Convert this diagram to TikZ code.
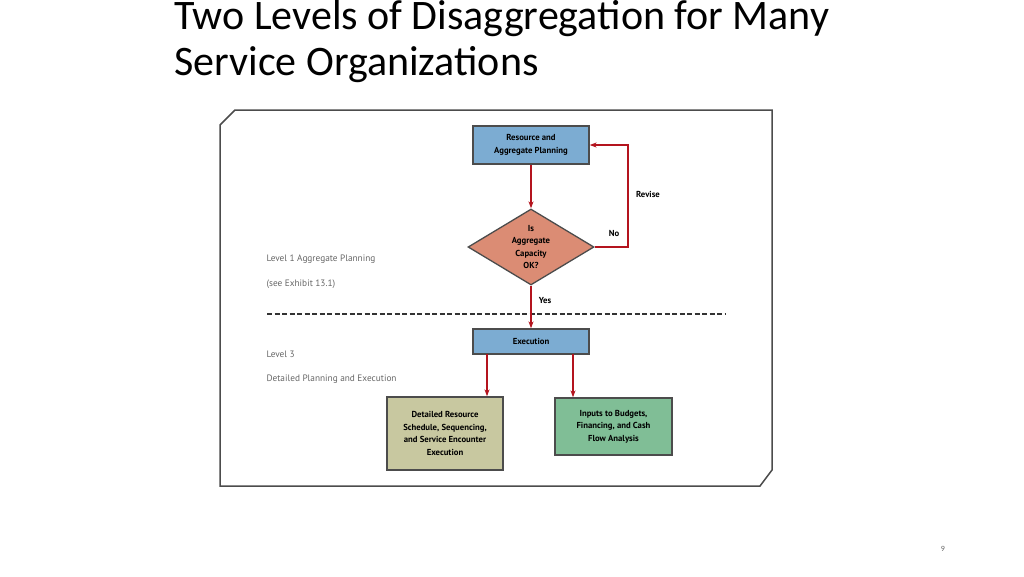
\documentclass[tikz,border=0pt]{standalone}
\usepackage{fontspec}
\setmainfont{Carlito}
\setsansfont{PT Sans}
\usetikzlibrary{shapes.geometric,arrows.meta}
\definecolor{boxblue}{RGB}{124,172,210}
\definecolor{boxsalmon}{RGB}{219,140,116}
\definecolor{boxtan}{RGB}{200,200,160}
\definecolor{boxgreen}{RGB}{128,190,150}
\definecolor{flowred}{RGB}{180,20,30}
\begin{document}
\begin{tikzpicture}[x=1pt,y=-1pt,
  					stepbox/.style={shape=rectangle, draw=black!70, line width=1.3, font=\sffamily\bfseries\fontsize{8.7}{12.5}\selectfont, align=center, inner sep=0},
  					flow/.style={draw=flowred, line width=1.6, -{Stealth[length=7pt,width=5pt]}},
  					sidetext/.style={anchor=west, text=black!60, font=\sffamily\fontsize{9.3}{11}\selectfont},
  					flowlabel/.style={font=\sffamily\bfseries\fontsize{8.7}{10}\selectfont}
					]
	\useasboundingbox (0,0) rectangle (1024,576);
	%title
	\node[anchor=north west, align=left, font=\fontsize{42}{46}\selectfont, inner sep=0] (title) at (174,0) {Two Levels of Disaggregation for Many\\Service Organizations};
	\node[font=\fontsize{8}{9}\selectfont, text=black!60] (pagenum) at (943,549) {9};
	%frame
	\draw[black!70, line width=1.5] (220,125) -- (235,110) -- (772,110) -- (772,470) -- (760,486) -- (220,486) -- cycle;
	%boxes
	\node[stepbox, fill=boxblue, minimum width=116, minimum height=38] (plan) at (531,145) {Resource and\\Aggregate Planning};
	\node[stepbox, shape=diamond, fill=boxsalmon, minimum width=126, minimum height=76, aspect=1.66] (check) at (531,247) {Is\\Aggregate\\Capacity\\OK?};
	\node[stepbox, fill=boxblue, minimum width=116, minimum height=25] (exec) at (531,341.5) {Execution};
	\node[stepbox, fill=boxtan, minimum width=116, minimum height=73] (detail) at (445,433.5) {Detailed Resource\\Schedule, Sequencing,\\and Service Encounter\\Execution};
	\node[stepbox, fill=boxgreen, minimum width=117, minimum height=57] (inputs) at (613.5,426.5) {Inputs to Budgets,\\Financing, and Cash\\Flow Analysis};
	%level separator
	\draw[black!80, line width=1.8, dash pattern=on 5pt off 2.5pt] (267,314) -- (725,314);
	%connectors
	\coordinate (loopbot) at (628,247);
	\coordinate (looptop) at (628,145);
	\coordinate (d1) at (487,354);
	\coordinate (d2) at (573,354);
	\draw[flow] (plan) -- (check);
	\draw[flow] (check.east) -- (loopbot) -- (looptop) -- (plan.east);
	\draw[flow] (check) -- (exec);
	\draw[flow] (d1) -- (d1 |- detail.north);
	\draw[flow] (d2) -- (d2 |- inputs.north);
	%labels
	\node[flowlabel] (revise) at (648,194) {Revise};
	\node[flowlabel] (no) at (614,233) {No};
	\node[flowlabel] (yes) at (545,301) {Yes};
	\node[sidetext] (lvl1) at (263,259) {Level 1 Aggregate Planning};
	\node[sidetext] (lvl1b) at (263,284) {(see Exhibit 13.1)};
	\node[sidetext] (lvl3) at (263,354) {Level 3};
	\node[sidetext] (lvl3b) at (263,379) {Detailed Planning and Execution};
\end{tikzpicture}
\end{document}
